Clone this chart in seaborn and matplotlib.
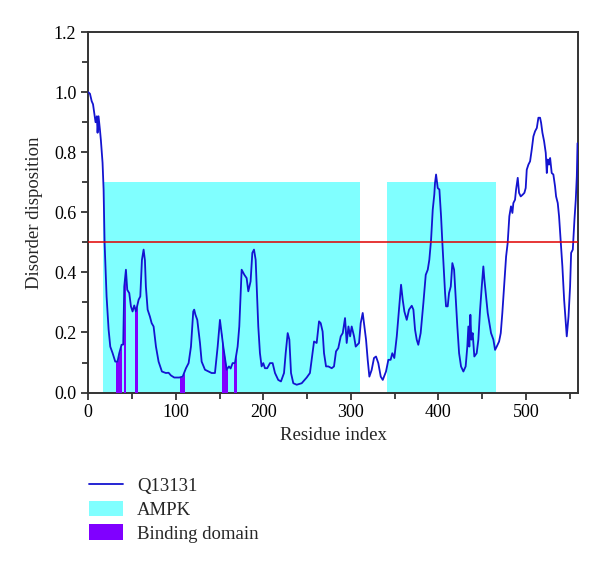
import numpy as np
import pandas as pd
import matplotlib
matplotlib.use("Agg")
import matplotlib.pyplot as plt
import matplotlib.ticker as mtick
from matplotlib.patches import Patch, Rectangle
from matplotlib.lines import Line2D
import seaborn as sns

# disorder disposition profile (residue, value)
residue = [0, 2, 4, 5.5, 7, 8.4, 9.9, 10.7, 11.8, 13.4, 14.5, 16.4, 17.6, 18.7, 21, 23.3, 25.2,
           27.9, 30.9, 33.5, 35.5, 38.1, 40, 41.2, 43.1, 44.6, 46.9, 48.8, 50.7, 52.6, 54.5,
           57.6, 59.5, 61.4, 63.3, 64.8, 65.9, 67.9, 70.5, 72.5, 74.7, 77.4, 80.4, 84.2, 88.8,
           91.8, 94.5, 98.3, 104, 107.9, 111.7, 114.7, 117.4, 120, 121.1, 122.4, 124.6, 127.7,
           129.6, 133.4, 141, 144.8, 147.9, 150.5, 152.4, 154.3, 158.2, 160.8, 162.7, 165,
           167.6, 170.7, 172.6, 175.3, 178.4, 181, 182.9, 185.5, 187.5, 189.4, 191.3, 194.3,
           196.2, 198.1, 200, 201.9, 204.5, 207.7, 210.7, 213.4, 217.1, 220.2, 223.7, 225.6,
           227.9, 229.8, 231.7, 234.3, 238.2, 243.9, 249.6, 253.3, 255.3, 258, 261, 263.7,
           265.6, 267.8, 269.4, 271.7, 274.3, 278.2, 280.8, 283.1, 285.7, 288.5, 290.8, 293.4,
           295.3, 297.3, 299.2, 301, 303.7, 305.6, 309.4, 311.3, 313.6, 315.5, 317.4, 319.3,
           321.2, 323.8, 326.5, 328.8, 331.4, 334.2, 336.5, 340.2, 342.9, 345.5, 347.4, 349.7,
           352.5, 355.1, 357.4, 359.3, 361.2, 363.9, 366.5, 369.6, 371.5, 373.4, 375.3, 377.1,
           379.8, 382.9, 385.6, 387.9, 389.7, 391.7, 393.6, 395.4, 396.2, 397.4, 399.3, 401.2,
           403.1, 404.6, 406.5, 407.7, 408.8, 410.7, 412.2, 414.2, 416, 418, 419.9, 421.7,
           423.7, 425.9, 428.6, 431.2, 433.1, 434.3, 435.4, 436.6, 437.7, 439.2, 441.1, 443.8,
           445.7, 447.7, 449.6, 451.4, 452.6, 454.5, 456.4, 458.3, 460.2, 462.9, 464.8, 466.7,
           469.4, 471.3, 473.1, 475.1, 477.4, 479.2, 481.1, 483, 484.6, 485.7, 487.6, 488.8,
           490.7, 492.2, 494.1, 496.4, 498.3, 499.8, 501, 502.9, 504.8, 506.7, 508.6, 510.5,
           512.5, 514.3, 516.2, 517.4, 518.9, 520.8, 522.7, 523.9, 525, 526.5, 527.7, 529.5,
           531.4, 533.3, 534.5, 536.4, 537.9, 539.9, 541.7, 543.7, 545.6, 546.7, 548.7, 550.5,
           551.7, 553.6, 555.5, 557, 558.2, 559]
disorder = [1.00, 0.995, 0.97, 0.96, 0.93, 0.90, 0.92, 0.865, 0.92, 0.875, 0.84, 0.765, 0.675,
            0.50, 0.32, 0.21, 0.153, 0.131, 0.103, 0.103, 0.131, 0.159, 0.16, 0.353, 0.409,
            0.342, 0.331, 0.287, 0.27, 0.29, 0.27, 0.309, 0.32, 0.442, 0.476, 0.44, 0.353,
            0.276, 0.253, 0.231, 0.22, 0.153, 0.103, 0.07, 0.065, 0.066, 0.057, 0.05, 0.05,
            0.053, 0.081, 0.098, 0.153, 0.27, 0.276, 0.26, 0.242, 0.165, 0.103, 0.076, 0.065,
            0.065, 0.153, 0.242, 0.198, 0.153, 0.076, 0.087, 0.08, 0.098, 0.098, 0.153, 0.22,
            0.409, 0.392, 0.381, 0.337, 0.37, 0.465, 0.476, 0.442, 0.22, 0.131, 0.087, 0.098,
            0.081, 0.081, 0.098, 0.098, 0.065, 0.042, 0.037, 0.065, 0.131, 0.198, 0.176, 0.065,
            0.031, 0.026, 0.031, 0.05, 0.065, 0.109, 0.17, 0.165, 0.237, 0.231, 0.203, 0.131,
            0.087, 0.087, 0.081, 0.087, 0.137, 0.148, 0.187, 0.198, 0.248, 0.165, 0.22, 0.187,
            0.22, 0.187, 0.153, 0.165, 0.231, 0.265, 0.22, 0.176, 0.109, 0.053, 0.075, 0.115,
            0.12, 0.098, 0.053, 0.042, 0.07, 0.109, 0.109, 0.131, 0.115, 0.187, 0.276, 0.359,
            0.309, 0.27, 0.242, 0.276, 0.289, 0.276, 0.209, 0.176, 0.159, 0.198, 0.298, 0.392,
            0.409, 0.442, 0.509, 0.609, 0.66, 0.698, 0.726, 0.681, 0.676, 0.587, 0.498, 0.398,
            0.331, 0.287, 0.287, 0.331, 0.353, 0.431, 0.409, 0.309, 0.22, 0.131, 0.087, 0.07,
            0.087, 0.153, 0.22, 0.153, 0.259, 0.176, 0.198, 0.12, 0.131, 0.176, 0.276, 0.353,
            0.42, 0.376, 0.32, 0.265, 0.231, 0.198, 0.176, 0.142, 0.153, 0.17, 0.198, 0.265,
            0.353, 0.453, 0.498, 0.587, 0.62, 0.598, 0.631, 0.642, 0.676, 0.715, 0.665, 0.653,
            0.659, 0.665, 0.681, 0.742, 0.759, 0.77, 0.809, 0.853, 0.87, 0.881, 0.915, 0.915,
            0.898, 0.865, 0.837, 0.798, 0.731, 0.776, 0.759, 0.781, 0.731, 0.726, 0.687, 0.653,
            0.631, 0.587, 0.498, 0.42, 0.309, 0.231, 0.187, 0.253, 0.353, 0.465, 0.476, 0.576,
            0.642, 0.72, 0.83]

# AMPK regions (start, end) and their drawn height
ampk_regions = [(17, 311), (341, 466)]
ampk_height = 0.7

# binding domain residue ranges
binding_regions = [(32, 37.5), (40.4, 42), (53, 55.3), (105, 109.7), (152.4, 158.2), (166.9, 168.8)]

threshold = 0.5

df = pd.DataFrame({"Residue index": residue, "Disorder disposition": disorder})

sns.set_theme(style="ticks")
plt.rcParams['font.family'] = ['Liberation Serif', 'DejaVu Serif']
plt.rcParams['axes.edgecolor'] = '#333333'
plt.rcParams['axes.linewidth'] = 1.4

fig = plt.figure(figsize=(6, 5.64), dpi=100)
ax = fig.add_axes([0.147, 0.304, 0.817, 0.639])

line_color = "#1414d0"
cyan = "#80ffff"
purple = "#8000ff"

for s, e in ampk_regions:
    ax.bar(s, ampk_height, width=e - s, align="edge", color=cyan, linewidth=0, zorder=1)

sns.lineplot(data=df, x="Residue index", y="Disorder disposition", ax=ax,
             color=line_color, linewidth=1.3, estimator=None, sort=False, zorder=4)

# purple fill under the curve, clipped to each binding range
for s, e in binding_regions:
    fb = ax.fill_between(df["Residue index"], 0, df["Disorder disposition"],
                         color=purple, linewidth=0, zorder=3)
    fb.set_clip_path(Rectangle((s, 0), e - s, 1.2, transform=ax.transData))

ax.axhline(threshold, color="#e00000", linewidth=1.1, zorder=5)

ax.set_xlim(0, 560)
ax.set_ylim(0, 1.2)
ax.xaxis.set_major_locator(mtick.MultipleLocator(100))
ax.xaxis.set_minor_locator(mtick.MultipleLocator(50))
ax.yaxis.set_major_locator(mtick.MultipleLocator(0.2))
ax.yaxis.set_minor_locator(mtick.MultipleLocator(0.1))
ax.yaxis.set_major_formatter(mtick.FormatStrFormatter('%.1f'))
ax.tick_params(which="major", direction="out", length=5, width=1.2, colors="#222222",
               labelsize=13, labelcolor="black")
ax.tick_params(which="minor", direction="out", length=4, width=1.2, colors="#222222")
ax.set_xlabel("Residue index", fontsize=13.5, labelpad=4)
ax.set_ylabel("Disorder disposition", fontsize=13.5, labelpad=8)
for sp in ax.spines.values():
    sp.set_visible(True)

handles = [Line2D([0], [0], color=line_color, linewidth=1.3),
           Patch(facecolor=cyan, edgecolor="none"),
           Patch(facecolor=purple, edgecolor="none")]
labels = ["Q13131", "AMPK", "Binding domain"]
fig.legend(handles, labels, loc="upper left", bbox_to_anchor=(0.135, 0.168),
           frameon=False, fontsize=13.5, handlelength=1.85, handleheight=0.9,
           handletextpad=0.75, labelspacing=0.3, borderaxespad=0)

fig.savefig("out.png", dpi=100)
